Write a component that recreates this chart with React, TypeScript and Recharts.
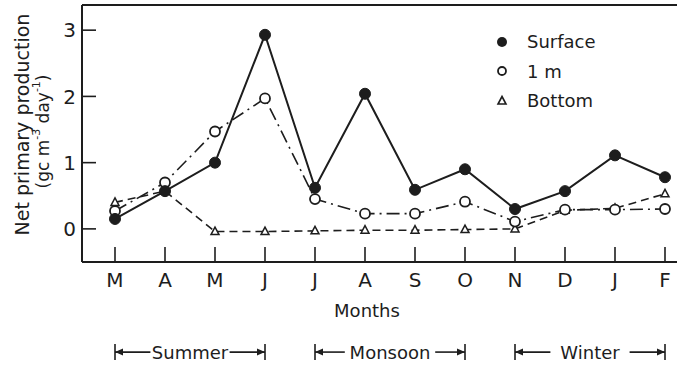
import { LineChart, Line, XAxis, YAxis, Legend, ReferenceLine, Label } from "recharts";

// months from March to February, keyed uniquely, single-letter tick labels
const monthKeys = ["Mar", "Apr", "May", "Jun", "Jul", "Aug", "Sep", "Oct", "Nov", "Dec", "Jan", "Feb"];
const monthLabels = ["M", "A", "M", "J", "J", "A", "S", "O", "N", "D", "J", "F"];

// net primary production, gC m-3 day-1
const surface = [0.15, 0.57, 1.0, 2.93, 0.62, 2.04, 0.59, 0.9, 0.3, 0.57, 1.11, 0.78];
const oneMetre = [0.27, 0.7, 1.47, 1.97, 0.45, 0.23, 0.23, 0.41, 0.11, 0.29, 0.29, 0.3];
const bottom = [0.4, 0.57, -0.04, -0.04, -0.03, -0.02, -0.02, -0.01, 0.0, 0.28, 0.31, 0.53];

const seriesNames = ["Surface", "1 m", "Bottom"];
const yTicks = [0, 1, 2, 3];

const seasons = [
	{ name: "Summer", from: 0, to: 3 },
	{ name: "Monsoon", from: 4, to: 7 },
	{ name: "Winter", from: 8, to: 11 },
];

const data = monthKeys.map((m, i) => ({
	idx: i,
	month: m,
	surface: surface[i],
	oneMetre: oneMetre[i],
	bottom: bottom[i],
}));
const xTicks = monthKeys.map((_, i) => i);

const INK = "#1d1d1d";
const FONT = "'DejaVu Sans', sans-serif";
const Y_MIN = -0.5;
const Y_MAX = 3.38;
const X_MIN = -0.66;
const X_MAX = 11.5;
const SEASON_Y = -1.86;

const FilledDot = (p: any) =>
	p.cx == null ? null : <circle key={p.key} cx={p.cx} cy={p.cy} r={5.5} fill={INK} stroke={INK} strokeWidth={1} />;

const OpenDot = (p: any) =>
	p.cx == null ? null : <circle key={p.key} cx={p.cx} cy={p.cy} r={5} fill="#fff" stroke={INK} strokeWidth={1.8} />;

const TriDot = (p: any) =>
	p.cx == null ? null : (
		<path
			key={p.key}
			d={`M${p.cx},${p.cy - 4.5} L${p.cx + 4},${p.cy + 3} L${p.cx - 4},${p.cy + 3} Z`}
			fill="#fff"
			stroke={INK}
			strokeWidth={1.5}
		/>
	);

const legendMarkers = [
	<circle cx={8} cy={8} r={5} fill={INK} />,
	<circle cx={8} cy={8} r={4} fill="#fff" stroke={INK} strokeWidth={1.8} />,
	<path d="M8,3.5 L12,11 L4,11 Z" fill="#fff" stroke={INK} strokeWidth={1.6} />,
];

const LegendBox = () => (
	<div style={{ fontFamily: FONT, fontSize: 18, color: INK }}>
		{seriesNames.map((name, i) => (
			<div key={name} style={{ display: "flex", alignItems: "center", height: 29.5 }}>
				<svg width={16} height={16} style={{ marginRight: 17 }}>
					{legendMarkers[i]}
				</svg>
				<span>{name}</span>
			</div>
		))}
	</div>
);

const YTitle = (p: any) => {
	const vb = p.viewBox || { x: 0, y: 5, width: 82, height: 257 };
	const cy = vb.y + vb.height / 2 - 9;
	return (
		<g fill={INK} fontFamily={FONT}>
			<text x={22} y={cy} transform={`rotate(-90 22 ${cy})`} textAnchor="middle" dominantBaseline="central" fontSize={19}>
				Net primary production
			</text>
			<text x={43} y={cy + 7} transform={`rotate(-90 43 ${cy + 7})`} textAnchor="middle" dominantBaseline="central" fontSize={17}>
				(gc m<tspan baselineShift="super" fontSize={11}>-3</tspan> day<tspan baselineShift="super" fontSize={11}>-1</tspan>)
			</text>
		</g>
	);
};

const makeBracket = (name: string) => (p: any) => {
	const { x1, y1, x2 } = p;
	if (x1 == null) return null;
	const y = y1;
	const cx = (x1 + x2) / 2;
	const half = name.length * 5.6 + 6;
	return (
		<g>
			<line x1={x1} y1={y - 8} x2={x1} y2={y + 8} stroke={INK} strokeWidth={1.6} />
			<line x1={x2} y1={y - 8} x2={x2} y2={y + 8} stroke={INK} strokeWidth={1.6} />
			<line x1={x1} y1={y} x2={cx - half} y2={y} stroke={INK} strokeWidth={1.6} />
			<line x1={cx + half} y1={y} x2={x2} y2={y} stroke={INK} strokeWidth={1.6} />
			<path d={`M${x1},${y} l8,-3.5 v7 z`} fill={INK} />
			<path d={`M${x2},${y} l-8,-3.5 v7 z`} fill={INK} />
			<text x={cx} y={y} textAnchor="middle" dominantBaseline="central" fill={INK} fontFamily={FONT} fontSize={18}>
				{name}
			</text>
		</g>
	);
};

export default function App() {
	return (
		<div
			style={{
				position: "absolute",
				left: 0,
				top: 0,
				width: 677,
				height: 368,
				overflow: "hidden",
				background: "#fff",
				fontFamily: FONT,
			}}
		>
			<LineChart width={690} height={368} data={data} margin={{ top: 5, right: 0, left: 0, bottom: 66 }}>
				<XAxis
					dataKey="idx"
					type="number"
					domain={[X_MIN, X_MAX]}
					allowDataOverflow
					ticks={xTicks}
					interval={0}
					tickFormatter={(v: number) => monthLabels[v]}
					height={40}
					tickSize={-15}
					tickMargin={26}
					axisLine={{ stroke: INK, strokeWidth: 2 }}
					tickLine={{ stroke: INK, strokeWidth: 1.6 }}
					tick={{ fill: INK, fontSize: 20, fontFamily: FONT }}
				>
					<Label value="Months" position="bottom" offset={2} dx={-19} fill={INK} fontSize={18} fontFamily={FONT} />
				</XAxis>
				<YAxis
					type="number"
					domain={[Y_MIN, Y_MAX]}
					allowDataOverflow
					ticks={yTicks}
					interval={0}
					width={82}
					tickSize={-14}
					tickMargin={20}
					axisLine={{ stroke: INK, strokeWidth: 2 }}
					tickLine={{ stroke: INK, strokeWidth: 1.6 }}
					tick={{ fill: INK, fontSize: 20, fontFamily: FONT }}
					label={<YTitle />}
				/>
				<ReferenceLine y={Y_MAX} stroke={INK} strokeWidth={2} ifOverflow="visible" />
				{seasons.map((s) => (
					<ReferenceLine
						key={s.name}
						segment={[
							{ x: s.from, y: SEASON_Y },
							{ x: s.to, y: SEASON_Y },
						]}
						ifOverflow="visible"
						shape={makeBracket(s.name)}
					/>
				))}
				<Legend
					verticalAlign="middle"
					align="center"
					layout="vertical"
					content={<LegendBox />}
					wrapperStyle={{ top: 27, left: 494, width: 140 }}
				/>
				<Line
					type="linear"
					dataKey="bottom"
					name={seriesNames[2]}
					stroke={INK}
					strokeWidth={1.6}
					strokeDasharray="8 5"
					dot={TriDot}
					isAnimationActive={false}
				/>
				<Line
					type="linear"
					dataKey="oneMetre"
					name={seriesNames[1]}
					stroke={INK}
					strokeWidth={1.6}
					strokeDasharray="13 5 2 5"
					dot={OpenDot}
					isAnimationActive={false}
				/>
				<Line
					type="linear"
					dataKey="surface"
					name={seriesNames[0]}
					stroke={INK}
					strokeWidth={2}
					dot={FilledDot}
					isAnimationActive={false}
				/>
			</LineChart>
		</div>
	);
}
